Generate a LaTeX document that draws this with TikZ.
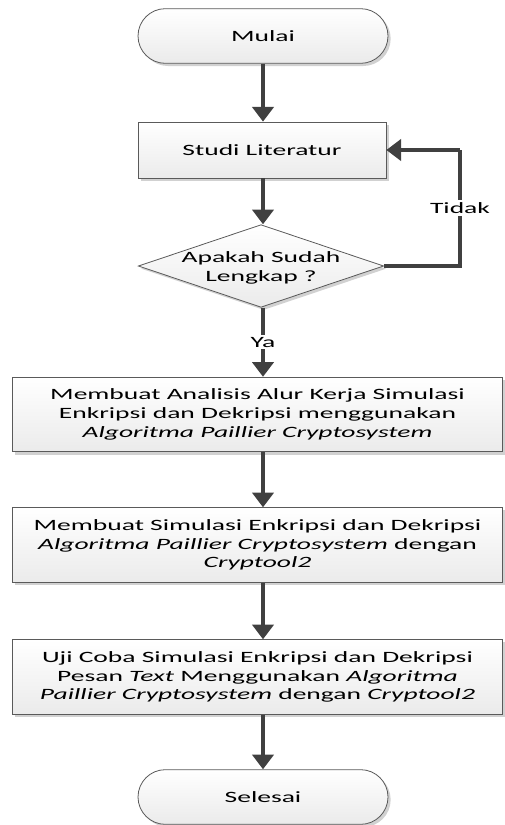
\documentclass[tikz,border=0pt]{standalone}
\usepackage{fontspec}
\setmainfont{Carlito}[FakeStretch=1.75]
\usetikzlibrary{arrows.meta,shapes.misc,shapes.geometric,shadows}

\definecolor{garis}{RGB}{64,64,64}
\definecolor{tepi}{RGB}{90,90,90}

\tikzset{every picture/.style={line width=0.75pt}}
\tikzset{
  bayang/.style={drop shadow={shadow xshift=2pt,shadow yshift=-2pt,fill=black!30,opacity=0.6}},
  isi/.style={draw=tepi,line width=0.6pt,top color=white,bottom color=black!8,bayang},
  terminal/.style={isi,rounded rectangle,minimum width=187.5pt,minimum height=41pt,inner sep=0pt},
  proses/.style={isi,rectangle,minimum width=186pt,minimum height=42pt,inner sep=0pt,align=center},
  prosesbesar/.style={isi,rectangle,minimum width=368pt,minimum height=56pt,inner sep=0pt,align=center},
  keputusan/.style={isi,diamond,minimum width=184pt,minimum height=62pt,inner sep=0pt},
  panah/.style={draw=garis,line width=2.3pt,-{Triangle[length=11pt,width=16pt]}},
  garisloop/.style={draw=garis,line width=2.3pt},
  label/.style={fill=white,inner sep=1.5pt}
}

\begin{document}
\begin{tikzpicture}[x=0.75pt,y=0.75pt,yscale=-1,xscale=1,font=\fontsize{11.8}{14}\selectfont]
\useasboundingbox (0,0) rectangle (504,825);

%Shape: Terminator
\node[terminal] (mulai) at (263,36) {Mulai};
%Shape: Process
\node[proses] (studi) at (262,150) {Studi Literatur};
%Shape: Decision
\node[keputusan] (cek) at (261,266) {};
% Text Node
\node[align=center] (cektext) at (261,268) {Apakah Sudah\\Lengkap ?};
%Shape: Process
\node[prosesbesar] (analisis) at (257.5,414.5) {Membuat Analisis Alur Kerja Simulasi\\Enkripsi dan Dekripsi menggunakan\\\textit{Algoritma Paillier Cryptosystem}};
%Shape: Process
\node[prosesbesar] (simulasi) at (257.5,545) {Membuat Simulasi Enkripsi dan Dekripsi\\\textit{Algoritma Paillier Cryptosystem} dengan\\\textit{Cryptool2}};
%Shape: Process
\node[prosesbesar] (ujicoba) at (257.5,677) {Uji Coba Simulasi Enkripsi dan Dekripsi\\Pesan \textit{Text} Menggunakan \textit{Algoritma}\\\textit{Paillier Cryptosystem} dengan \textit{Cryptool2}};
%Shape: Terminator
\node[terminal] (selesai) at (263,797) {Selesai};

\coordinate (kanan) at (460,0);

%Straight Lines
\draw[panah] (mulai.south) -- (mulai.south |- studi.north);
\draw[panah] (mulai.south |- studi.south) -- (mulai.south |- cek.north);
\draw[panah] (mulai.south |- cek.south) -- node[label] {Ya} (mulai.south |- analisis.north);
\draw[panah] (mulai.south |- analisis.south) -- (mulai.south |- simulasi.north);
\draw[panah] (mulai.south |- simulasi.south) -- (mulai.south |- ujicoba.north);
\draw[panah] (mulai.south |- ujicoba.south) -- (selesai.north);
%Loop Lines
\draw[garisloop] (cek.east) -- (cek.east -| kanan) -- node[label] {Tidak} (studi.east -| kanan);
\draw[panah] (studi.east -| kanan) -- (studi.east);

\end{tikzpicture}
\end{document}
